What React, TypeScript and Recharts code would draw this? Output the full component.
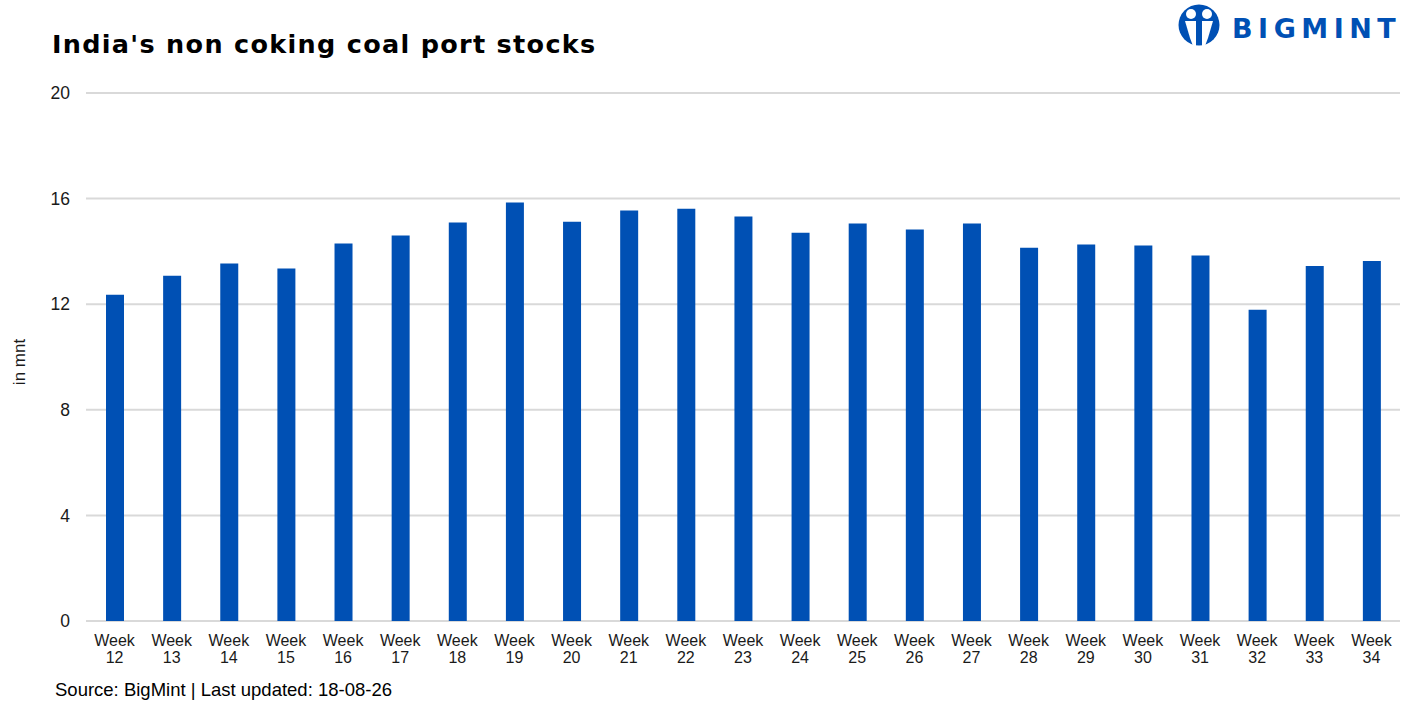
import { Bar, BarChart, CartesianGrid, XAxis, YAxis } from "recharts";

const weeks = [
  "Week 12", "Week 13", "Week 14", "Week 15", "Week 16", "Week 17", "Week 18", "Week 19",
  "Week 20", "Week 21", "Week 22", "Week 23", "Week 24", "Week 25", "Week 26", "Week 27",
  "Week 28", "Week 29", "Week 30", "Week 31", "Week 32", "Week 33", "Week 34",
];
const stocks = [
  12.36, 13.08, 13.54, 13.35, 14.3, 14.6, 15.09, 15.85,
  15.12, 15.55, 15.62, 15.32, 14.71, 15.06, 14.83, 15.06,
  14.14, 14.26, 14.22, 13.84, 11.79, 13.45, 13.64,
];
const yTicks = [0, 4, 8, 12, 16, 20];

const data = weeks.map((w, i) => ({ week: w, stock: stocks[i] }));

const blue = "#0050b4";
const font = "'Liberation Sans', Arial, sans-serif";
const wide = "'DejaVu Sans', sans-serif";

function WeekTick({ x, y, payload }: any) {
  const [a, b] = String(payload.value).split(" ");
  return (
    <text x={x} y={y} textAnchor="middle" fill="#1a1a1a" fontSize={16} fontFamily={font}>
      <tspan x={x} dy={17}>{a}</tspan>
      <tspan x={x} dy={17}>{b}</tspan>
    </text>
  );
}

function Logo() {
  return (
    <svg width={240} height={50} style={{ position: "absolute", left: 1172, top: 0 }}>
      <circle cx={27} cy={25} r={20.5} fill={blue} />
      <circle cx={19} cy={14} r={5} fill="#fff" />
      <circle cx={35} cy={14} r={5} fill="#fff" />
      <path d="M13 21 h11 v25 h-3 l-3 -8 z" fill="#fff" />
      <path d="M41 21 h-11 v25 h3 l3 -8 z" fill="#fff" />
      <text
        x={60}
        y={38}
        fill={blue}
        fontSize={27}
        fontWeight="bold"
        fontFamily={wide}
        letterSpacing={5.5}
      >
        BIGMINT
      </text>
    </svg>
  );
}

export default function App() {
  return (
    <div
      style={{
        position: "absolute",
        left: 0,
        top: 0,
        width: 1417,
        height: 709,
        background: "#fff",
        fontFamily: font,
      }}
    >
      <div
        style={{
          position: "absolute",
          left: 52,
          top: 29,
          fontSize: 25.5,
          fontWeight: "bold",
          fontFamily: wide,
          letterSpacing: 1.3,
          color: "#000",
          whiteSpace: "nowrap",
        }}
      >
        India's non coking coal port stocks
      </div>
      <Logo />
      <BarChart
        width={1417}
        height={709}
        data={data}
        margin={{ top: 93, right: 17, bottom: 48, left: 30 }}
        barSize={18}
      >
        <CartesianGrid vertical={false} stroke="#d9d9d9" strokeWidth={2} />
        <XAxis
          dataKey="week"
          axisLine={false}
          tickLine={false}
          interval={0}
          height={40}
          tick={<WeekTick />}
        />
        <YAxis
          domain={[0, 20]}
          ticks={yTicks}
          width={56}
          axisLine={false}
          tickLine={false}
          tickMargin={10}
          tick={{ fill: "#1a1a1a", fontSize: 17.5, fontFamily: font }}
        />
        <Bar dataKey="stock" fill={blue} isAnimationActive={false} />
      </BarChart>
      <div
        style={{
          position: "absolute",
          left: 20,
          top: 362,
          transform: "translate(-50%, -50%) rotate(-90deg)",
          fontSize: 17,
          color: "#1a1a1a",
          whiteSpace: "nowrap",
        }}
      >
        in mnt
      </div>
      <div
        style={{
          position: "absolute",
          left: 55,
          top: 679,
          fontSize: 18.5,
          color: "#000",
          whiteSpace: "nowrap",
        }}
      >
        Source: BigMint | Last updated: 18-08-26
      </div>
    </div>
  );
}
